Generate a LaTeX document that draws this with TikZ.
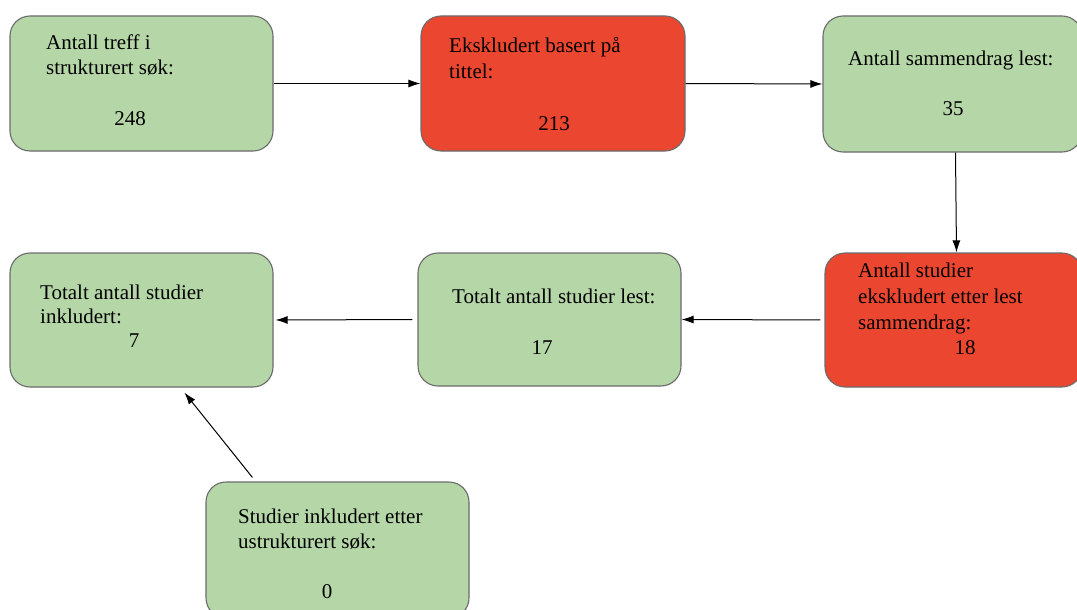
\documentclass[tikz,border=0pt]{standalone}
\usepackage{fontspec}
\setmainfont{Liberation Serif}
\usetikzlibrary{arrows.meta,calc}
\definecolor{boxgreen}{HTML}{B5D7A8}
\definecolor{boxred}{HTML}{EB4630}
\definecolor{boxline}{HTML}{6B6B6B}
\begin{document}
\begin{tikzpicture}[x=1pt,y=-1pt,
  flowbox/.style={draw=boxline, line width=1.1pt, rounded corners=20pt, inner sep=0pt},
  okbox/.style={flowbox, fill=boxgreen},
  outbox/.style={flowbox, fill=boxred},
  txt/.style={anchor=base west, inner sep=0pt, font=\fontsize{21}{25}\selectfont},
  num/.style={anchor=base, inner sep=0pt, font=\fontsize{21}{25}\selectfont},
  conn/.style={draw=black, line width=1pt, -{Latex[length=12pt,width=8pt]}}]
\useasboundingbox (0,0) rectangle (1077,610);
\clip (0,0) rectangle (1077,610);

% boxes
\node[okbox,  minimum width=263pt, minimum height=135pt] (b1) at (141.5,83.5) {};
\node[outbox, minimum width=264pt, minimum height=135pt] (b2) at (553,83.5) {};
\node[okbox,  minimum width=259pt, minimum height=136pt] (b3) at (952.5,84) {};
\node[outbox, minimum width=257pt, minimum height=134pt] (b4) at (953.5,320) {};
\node[okbox,  minimum width=263pt, minimum height=133pt] (b5) at (549.5,319.5) {};
\node[okbox,  minimum width=263pt, minimum height=134pt] (b6) at (141.5,320) {};
\node[okbox,  minimum width=263pt, minimum height=136pt] (b7) at (337.5,550) {};

% texts
\node[txt] (t1a) at (46,50) {Antall treff i};
\node[txt] (t1b) at (46,75) {strukturert søk:};
\node[num] (t1c) at (130,125) {248};

\node[txt] (t2a) at (449,53) {Ekskludert basert på};
\node[txt] (t2b) at (449,78) {tittel:};
\node[num] (t2c) at (554,130) {213};

\node[txt] (t3a) at (848,66) {Antall sammendrag lest:};
\node[num] (t3b) at (953,116) {35};

\node[txt] (t4a) at (858,277) {Antall studier};
\node[txt] (t4b) at (858,303) {ekskludert etter lest};
\node[txt] (t4c) at (858,329) {sammendrag:};
\node[num] (t4d) at (965,354) {18};

\node[txt] (t5a) at (452,303) {Totalt antall studier lest:};
\node[num] (t5b) at (542,354) {17};

\node[txt] (t6a) at (40,299) {Totalt antall studier};
\node[txt] (t6b) at (40,323) {inkludert:};
\node[num] (t6c) at (134,347) {7};

\node[txt] (t7a) at (238,523) {Studier inkludert etter};
\node[txt] (t7b) at (238,548) {ustrukturert søk:};
\node[num] (t7c) at (327,598) {0};

% connectors
\coordinate (s3) at ($(b3.south)+(3,0)$);
\coordinate (e4) at ($(b4.north)+(3,0)$);
\coordinate (s7) at ($(b7.north west)+(47,-4)$);
\coordinate (e6) at ($(b6.south west)+(175,5)$);
\draw[conn] (b1.east) -- (b2.west);
\draw[conn] (b2.east) -- (b3.west);
\draw[conn] (s3) -- (e4);
\draw[conn, shorten <=4pt] (b4.west) -- (b5.east);
\draw[conn, shorten <=5pt, shorten >=2pt] (b5.west) -- (b6.east);
\draw[conn] (s7) -- (e6);
\end{tikzpicture}
\end{document}
